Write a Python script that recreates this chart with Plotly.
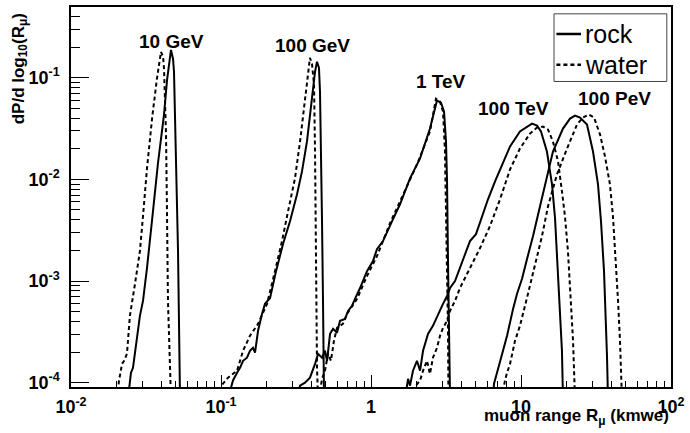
import plotly.graph_objects as go

# Muon range distributions dP/dlog10(R) for several muon energies, rock vs water
energy_labels = ["10 GeV", "100 GeV", "1 TeV", "100 TeV", "100 PeV"]

# ---- rock ----
r_rock_10gev = [0.0240, 0.0251, 0.0259, 0.0275, 0.0288, 0.0302, 0.0321, 0.0352, 0.0380, 0.0417,
                0.0437, 0.0464, 0.0479, 0.0486, 0.0501, 0.0517, 0.0533]
p_rock_10gev = [7e-5, 1.25e-4, 1.40e-4, 2.58e-4, 4.54e-4, 6.37e-4, 1.34e-3, 4.85e-3, 0.0144, 0.0434,
                0.0955, 0.188, 0.153, 0.1145, 0.0188, 1.97e-3, 7e-5]

r_rock_100gev = [0.1114, 0.1202, 0.1279, 0.1339, 0.1403, 0.149, 0.156, 0.1633, 0.1686, 0.1766,
                 0.1876, 0.1965, 0.2123, 0.2328, 0.2591, 0.2884, 0.3213, 0.3467, 0.3743, 0.4044,
                 0.4236, 0.4365, 0.4498, 0.4571, 0.4645, 0.4715, 0.4786, 0.4864]
p_rock_100gev = [7e-5, 1.05e-4, 1.25e-4, 1.40e-4, 1.64e-4, 1.76e-4, 2.06e-4, 2.20e-4, 1.97e-4, 3.24e-4,
                 4.74e-4, 5.96e-4, 6.81e-4, 1.25e-3, 2.31e-3, 3.87e-3, 7.13e-3, 0.01197, 0.0236, 0.0622,
                 0.1145, 0.1435, 0.1253, 0.0729, 0.0236, 3.87e-3, 6.37e-4, 7e-5]

r_rock_1tev = [0.3213, 0.3365, 0.3631, 0.3918, 0.4236, 0.4436, 0.4715, 0.4936, 0.5093, 0.5333,
               0.5585, 0.5936, 0.6216, 0.6714, 0.7031, 0.7464, 0.7822, 0.8453, 0.9404, 1.031,
               1.096, 1.202, 1.402, 1.561, 1.820, 2.123, 2.473, 2.673, 2.754, 2.929,
               3.069, 3.162, 3.213, 3.261, 3.311, 3.365]
p_rock_1tev = [7e-5, 9.35e-5, 1.0e-4, 1.12e-4, 1.53e-4, 1.92e-4, 1.76e-4, 2.06e-4, 1.64e-4, 3.02e-4,
               3.38e-4, 3.09e-4, 4.06e-4, 4.24e-4, 5.08e-4, 5.69e-4, 6.67e-4, 8.53e-4, 1.25e-3, 1.57e-3,
               2.06e-3, 2.47e-3, 4.06e-3, 5.69e-3, 0.01023, 0.01607, 0.0316, 0.052, 0.0596, 0.0569,
               0.0464, 0.0236, 9.55e-3, 1.57e-3, 3.24e-4, 7e-5]

r_rock_100tev = [1.686, 1.766, 1.820, 1.905, 2.026, 2.123, 2.223, 2.399, 2.588, 2.796,
                 3.020, 3.213, 3.365, 3.631, 3.917, 4.236, 4.571, 5.012, 5.408, 6.026,
                 6.714, 7.464, 8.453, 9.84, 10.96, 11.84, 12.79, 13.59, 14.89, 16.10,
                 16.86, 17.66, 18.20, 18.75, 19.05]
p_rock_100tev = [7e-5, 1.09e-4, 9.35e-5, 1.31e-4, 1.64e-4, 1.31e-4, 2.06e-4, 3.02e-4, 3.62e-4, 4.74e-4,
                 5.96e-4, 7.13e-4, 8.53e-4, 1.0e-3, 1.34e-3, 1.76e-3, 2.47e-3, 2.89e-3, 4.06e-3, 6.37e-3,
                 9.55e-3, 0.01403, 0.0211, 0.0296, 0.0331, 0.0354, 0.0338, 0.0296, 0.0188, 8.93e-3,
                 4.15e-3, 1.25e-3, 5.08e-4, 2.06e-4, 7e-5]

r_rock_100pev = [6.505, 6.607, 6.918, 7.244, 7.586, 8.072, 8.453, 8.851, 9.40, 10.16,
                 10.96, 12.02, 13.39, 14.89, 16.33, 19.05, 21.23, 22.91, 24.73, 27.54,
                 30.2, 32.61, 34.14, 35.76, 36.9, 37.43, 38.02]
p_rock_100pev = [7e-5, 9.77e-5, 1.25e-4, 1.64e-4, 2.06e-4, 2.89e-4, 4.06e-4, 5.31e-4, 7.46e-4, 1.05e-3,
                 1.64e-3, 2.76e-3, 5.43e-3, 0.0107, 0.0188, 0.0316, 0.0396, 0.0424, 0.0406, 0.0346,
                 0.0188, 8.93e-3, 3.87e-3, 1.25e-3, 4.06e-4, 1.84e-4, 7e-5]

# ---- water ----
r_water_10gev = [0.0203, 0.0209, 0.0219, 0.0226, 0.0236, 0.0247, 0.0267, 0.0288, 0.0302, 0.0321,
                 0.0347, 0.0374, 0.0398, 0.0411, 0.0417, 0.0430, 0.0437, 0.0443, 0.0464]
p_water_10gev = [7e-5, 1.05e-4, 1.53e-4, 1.64e-4, 1.92e-4, 4.54e-4, 9.35e-4, 1.97e-3, 4.34e-3, 0.0128,
                 0.0396, 0.0978, 0.180, 0.161, 0.1225, 0.0276, 4.15e-3, 6.4e-4, 7e-5]

r_water_100gev = [0.0985, 0.1031, 0.1114, 0.1279, 0.1403, 0.156, 0.1766, 0.2027, 0.2291, 0.2551,
                  0.2799, 0.3113, 0.3365, 0.3631, 0.3802, 0.3918, 0.4044, 0.4169, 0.4236, 0.4266,
                  0.4299, 0.4365, 0.4436]
p_water_100gev = [7e-5, 9.77e-5, 1.12e-4, 1.31e-4, 2.06e-4, 2.89e-4, 3.79e-4, 5.96e-4, 1.25e-3, 2.47e-3,
                  4.85e-3, 0.01023, 0.0236, 0.0622, 0.1145, 0.157, 0.137, 0.0853, 0.0188, 3.87e-3,
                  6.37e-4, 1.40e-4, 7e-5]

r_water_1tev = [0.4498, 0.4715, 0.4936, 0.5164, 0.5408, 0.5662, 0.5936, 0.6501, 0.6918, 0.8072,
                0.9404, 1.096, 1.339, 1.633, 2.026, 2.473, 2.630, 2.711, 2.884, 3.020,
                3.113, 3.162, 3.213, 3.261, 3.285]
p_water_1tev = [7e-5, 1.09e-4, 1.31e-4, 1.92e-4, 1.64e-4, 2.58e-4, 3.46e-4, 3.79e-4, 4.74e-4, 6.67e-4,
                1.12e-3, 1.76e-3, 3.71e-3, 7.13e-3, 0.01403, 0.0296, 0.0485, 0.0622, 0.0582, 0.0464,
                0.0188, 6.08e-3, 1.57e-3, 3.24e-4, 7e-5]

r_water_100tev = [1.875, 1.995, 2.123, 2.223, 2.361, 2.473, 2.588, 2.754, 2.884, 3.020,
                  3.213, 3.365, 3.631, 3.917, 4.571, 5.333, 6.209, 7.244, 8.453, 9.84,
                  11.48, 12.79, 14.02, 15.14, 16.33, 17.66, 18.75, 19.63, 20.56, 21.54,
                  22.23, 22.91]
p_water_100tev = [7e-5, 9.35e-5, 1.05e-4, 1.31e-4, 1.64e-4, 1.22e-4, 1.76e-4, 2.20e-4, 2.89e-4, 3.46e-4,
                  4.06e-4, 5.08e-4, 6.37e-4, 8.53e-4, 1.34e-3, 2.11e-3, 3.46e-3, 6.37e-3, 0.01253, 0.0201,
                  0.0282, 0.0324, 0.0331, 0.0309, 0.0236, 0.015, 7.62e-3, 4.34e-3, 1.97e-3, 6.37e-4,
                  2.58e-4, 7e-5]

r_water_100pev = [7.464, 7.816, 8.072, 8.453, 9.12, 9.84, 10.96, 12.39, 13.80, 15.14,
                  17.38, 20.28, 23.61, 25.88, 28.38, 30.68, 33.65, 36.31, 39.17, 41.02,
                  42.95, 44.36, 45.71, 47.1]
p_water_100pev = [7e-5, 1.05e-4, 1.25e-4, 1.53e-4, 2.58e-4, 3.62e-4, 6.81e-4, 1.40e-3, 2.76e-3, 5.43e-3,
                  0.0112, 0.0201, 0.0346, 0.0406, 0.0434, 0.0406, 0.0276, 0.0168, 8.93e-3, 4.34e-3,
                  1.57e-3, 6.37e-4, 2.58e-4, 7e-5]

# Label anchor positions (log10 units) for the energy tags
label_logx = [-1.327, -0.393, 0.467, 0.947, 1.62]
label_logy = [-0.647, -0.686, -1.039, -1.304, -1.206]

x_tick_vals = [0.01, 0.1, 1, 10, 100]
x_tick_text = ["10<sup>-2</sup>", "10<sup>-1</sup>", "1", "10", "10<sup>2</sup>"]
y_tick_vals = [1e-4, 1e-3, 1e-2, 1e-1]
y_tick_text = ["10<sup>-4</sup>", "10<sup>-3</sup>", "10<sup>-2</sup>", "10<sup>-1</sup>"]

FONT = "Liberation Sans, Arial, Helvetica, sans-serif"

rock_curves = [
    (r_rock_10gev, p_rock_10gev), (r_rock_100gev, p_rock_100gev), (r_rock_1tev, p_rock_1tev),
    (r_rock_100tev, p_rock_100tev), (r_rock_100pev, p_rock_100pev),
]
water_curves = [
    (r_water_10gev, p_water_10gev), (r_water_100gev, p_water_100gev), (r_water_1tev, p_water_1tev),
    (r_water_100tev, p_water_100tev), (r_water_100pev, p_water_100pev),
]

fig = go.Figure()
for name, (r, p) in zip(energy_labels, water_curves):
    fig.add_trace(go.Scatter(x=r, y=p, mode="lines", name=f"water {name}", showlegend=False,
                             line=dict(color="black", width=2, dash="4px,3px")))
for name, (r, p) in zip(energy_labels, rock_curves):
    fig.add_trace(go.Scatter(x=r, y=p, mode="lines", name=f"rock {name}", showlegend=False,
                             line=dict(color="black", width=2)))

for text, lx, ly in zip(energy_labels, label_logx, label_logy):
    fig.add_annotation(x=lx, y=ly, xref="x", yref="y", text=f"<b>{text}</b>", showarrow=False,
                       font=dict(family=FONT, size=19, color="black"))

# minor tick positions (2..9 within each decade)
x_minor = [m * 10 ** e for e in range(-2, 2) for m in range(2, 10)]
y_minor = [m * 10 ** e for e in range(-5, 0) for m in range(2, 10)]

fig.update_xaxes(type="log", range=[-2, 2], showgrid=False, zeroline=False,
                 showline=True, linecolor="black", linewidth=1.5, mirror=True,
                 tickmode="array", tickvals=x_tick_vals, ticktext=x_tick_text,
                 ticks="inside", ticklen=12, tickwidth=1.2, tickcolor="black",
                 ticklabelstandoff=3,
                 tickfont=dict(family=FONT, size=18, color="black", weight="bold"),
                 minor=dict(tickmode="array", tickvals=x_minor, ticks="inside", ticklen=6,
                            tickwidth=1, tickcolor="black", showgrid=False))
fig.update_yaxes(type="log", range=[-4.043, -0.304], showgrid=False, zeroline=False,
                 showline=True, linecolor="black", linewidth=1.5, mirror=True,
                 tickmode="array", tickvals=y_tick_vals, ticktext=y_tick_text,
                 ticks="inside", ticklen=18, tickwidth=1.2, tickcolor="black",
                 ticklabelstandoff=6,
                 tickfont=dict(family=FONT, size=18, color="black", weight="bold"),
                 minor=dict(tickmode="array", tickvals=y_minor, ticks="inside", ticklen=9,
                            tickwidth=1, tickcolor="black", showgrid=False))

# axis titles
fig.add_annotation(x=1.0, y=-0.078, xref="paper", yref="paper", xanchor="right", yanchor="middle",
                   text="<b>muon range R<sub>μ</sub> (kmwe)</b>", showarrow=False,
                   font=dict(family=FONT, size=17, color="black"))
fig.add_annotation(x=-0.085, y=0.99, xref="paper", yref="paper", xanchor="center", yanchor="top",
                   textangle=-90, text="<b>dP/d log<sub>10</sub>(R<sub>μ</sub>)</b>", showarrow=False,
                   font=dict(family=FONT, size=17, color="black"))

# legend box
fig.add_shape(type="rect", xref="paper", yref="paper", x0=0.805, x1=0.993, y0=0.804, y1=0.982,
              line=dict(color="#444444", width=1), fillcolor="white", layer="above")
fig.add_shape(type="line", xref="paper", yref="paper", x0=0.809, x1=0.850, y0=0.929, y1=0.929,
              line=dict(color="black", width=2.5), layer="above")
fig.add_shape(type="line", xref="paper", yref="paper", x0=0.809, x1=0.850, y0=0.848, y1=0.848,
              line=dict(color="black", width=2.5, dash="4px,3px"), layer="above")
fig.add_annotation(x=0.853, y=0.929, xref="paper", yref="paper", xanchor="left", yanchor="middle",
                   text="rock", showarrow=False, font=dict(family=FONT, size=25, color="black"))
fig.add_annotation(x=0.853, y=0.848, xref="paper", yref="paper", xanchor="left", yanchor="middle",
                   text="water", showarrow=False, font=dict(family=FONT, size=25, color="black"))

fig.update_layout(width=690, height=433, margin=dict(l=71, r=18, t=5, b=46),
                  paper_bgcolor="white", plot_bgcolor="white", showlegend=False)

fig.write_html("out.html")
